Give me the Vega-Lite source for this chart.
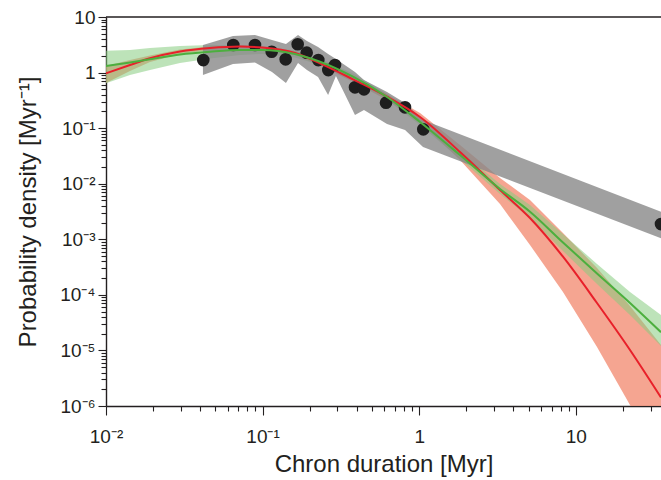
{
  "$schema": "https://vega.github.io/schema/vega-lite/v6.json",
  "autosize": {"type": "none"},
  "padding": {"left": 106, "top": 17, "right": 0, "bottom": 74},
  "width": 555,
  "height": 389,
  "config": {
    "view": {"stroke": null},
    "font": "Liberation Sans",
    "axis": {"grid": false, "domainColor": "#231f20", "domainWidth": 1.4, "tickColor": "#231f20", "tickWidth": 1.1, "labelColor": "#231f20", "titleColor": "#231f20", "labelFont": "Liberation Sans", "titleFont": "Liberation Sans", "titleFontWeight": "normal"}
  },
  "datasets": {
    "dots": [
      {"x": 0.0418, "y": 1.68}, {"x": 0.065, "y": 3.13}, {"x": 0.0894, "y": 3.13}, {"x": 0.1143, "y": 2.37},
      {"x": 0.1404, "y": 1.73}, {"x": 0.1675, "y": 3.23}, {"x": 0.1912, "y": 2.28}, {"x": 0.2268, "y": 1.68},
      {"x": 0.2628, "y": 1.11}, {"x": 0.29, "y": 1.37}, {"x": 0.389, "y": 0.543}, {"x": 0.4441, "y": 0.5},
      {"x": 0.6138, "y": 0.287}, {"x": 0.8116, "y": 0.237}, {"x": 1.062, "y": 0.0953}, {"x": 35, "y": 0.00188}
    ],
    "gray": [
      {"x": 0.0416, "y": 0.904, "y2": 3.13}, {"x": 0.0647, "y": 1.43, "y2": 4.55}, {"x": 0.0894, "y": 1.52, "y2": 4.75},
      {"x": 0.1148, "y": 1.02, "y2": 3.86}, {"x": 0.141, "y": 0.649, "y2": 3.27}, {"x": 0.1683, "y": 1.49, "y2": 4.75},
      {"x": 0.192, "y": 1.11, "y2": 3.7}, {"x": 0.226, "y": 0.832, "y2": 2.89}, {"x": 0.262, "y": 0.395, "y2": 2.16},
      {"x": 0.294, "y": 0.868, "y2": 1.76}, {"x": 0.389, "y": 0.172, "y2": 1.02}, {"x": 0.444, "y": 0.212, "y2": 0.735},
      {"x": 0.623, "y": 0.119, "y2": 0.447}, {"x": 0.812, "y": 0.0926, "y2": 0.284}, {"x": 1.058, "y": 0.0458, "y2": 0.14},
      {"x": 35, "y": 0.00104, "y2": 0.00314}
    ],
    "redband": [
      {"x": 0.01, "y": 0.649, "y2": 1.313}, {"x": 0.01423, "y": 1.067, "y2": 1.684}, {"x": 0.0191, "y": 1.55, "y2": 2.029},
      {"x": 0.02968, "y": 2.159, "y2": 2.602}, {"x": 0.04613, "y": 2.548, "y2": 2.946}, {"x": 0.07173, "y": 2.712, "y2": 3.134},
      {"x": 0.09912, "y": 2.602, "y2": 3.007}, {"x": 0.161, "y": 2.071, "y2": 2.394}, {"x": 0.2325, "y": 1.34, "y2": 1.582},
      {"x": 0.3778, "y": 0.6767, "y2": 0.8324}, {"x": 0.6228, "y": 0.3209, "y2": 0.4116}, {"x": 1.012, "y": 0.129, "y2": 0.1873},
      {"x": 1.822, "y": 0.02671, "y2": 0.04972}, {"x": 3.281, "y": 0.004313, "y2": 0.01267}, {"x": 5.099, "y": 0.000789, "y2": 0.005091},
      {"x": 8.284, "y": 0.0001126, "y2": 0.001297}, {"x": 13.66, "y": 0.00001152, "y2": 0.0003043}, {"x": 22.19, "y": 0.000001042, "y2": 0.000063},
      {"x": 35, "y": 0.0000001067, "y2": 0.00001252}
    ],
    "greenband": [
      {"x": 0.01, "y": 0.6412, "y2": 2.475}, {"x": 0.01423, "y": 0.9042, "y2": 2.548}, {"x": 0.0191, "y": 1.112, "y2": 2.768},
      {"x": 0.02968, "y": 1.487, "y2": 3.007}, {"x": 0.04613, "y": 1.791, "y2": 3.134}, {"x": 0.07173, "y": 2.071, "y2": 3.07},
      {"x": 0.09912, "y": 2.159, "y2": 3.007}, {"x": 0.161, "y": 1.867, "y2": 2.496}, {"x": 0.2325, "y": 1.368, "y2": 1.791},
      {"x": 0.3778, "y": 0.7351, "y2": 0.9623}, {"x": 0.6228, "y": 0.3209, "y2": 0.4116}, {"x": 1.012, "y": 0.1139, "y2": 0.1461},
      {"x": 1.822, "y": 0.02784, "y2": 0.0388}, {"x": 3.281, "y": 0.006531, "y2": 0.009881}, {"x": 5.099, "y": 0.002415, "y2": 0.004139},
      {"x": 8.284, "y": 0.0006154, "y2": 0.001245}, {"x": 13.66, "y": 0.0001568, "y2": 0.0003591}, {"x": 22.19, "y": 0.0000434, "y2": 0.0001126},
      {"x": 35, "y": 0.00001201, "y2": 0.0000434}
    ],
    "redline": [
      {"x": 0.01, "y": 0.9703}, {"x": 0.01423, "y": 1.368}, {"x": 0.0191, "y": 1.806}, {"x": 0.02968, "y": 2.394},
      {"x": 0.04613, "y": 2.768}, {"x": 0.07173, "y": 2.946}, {"x": 0.09912, "y": 2.826}, {"x": 0.161, "y": 2.25},
      {"x": 0.2325, "y": 1.468}, {"x": 0.3778, "y": 0.7566}, {"x": 0.6228, "y": 0.3679}, {"x": 1.012, "y": 0.1586},
      {"x": 1.822, "y": 0.03722}, {"x": 3.281, "y": 0.007706}, {"x": 5.099, "y": 0.002415}, {"x": 8.284, "y": 0.000486},
      {"x": 13.66, "y": 0.00007135}, {"x": 22.19, "y": 0.00001018}, {"x": 35, "y": 0.000001421}
    ],
    "greenline": [
      {"x": 0.01, "y": 1.313}, {"x": 0.01423, "y": 1.524}, {"x": 0.0191, "y": 1.733}, {"x": 0.02968, "y": 2.114},
      {"x": 0.04613, "y": 2.374}, {"x": 0.07173, "y": 2.548}, {"x": 0.09912, "y": 2.548}, {"x": 0.161, "y": 2.159},
      {"x": 0.2325, "y": 1.569}, {"x": 0.3778, "y": 0.8427}, {"x": 0.6228, "y": 0.3634}, {"x": 1.012, "y": 0.129},
      {"x": 1.822, "y": 0.03285}, {"x": 3.281, "y": 0.008033}, {"x": 5.099, "y": 0.003136}, {"x": 8.284, "y": 0.0008752},
      {"x": 13.66, "y": 0.0002423}, {"x": 22.19, "y": 0.00007135}, {"x": 35, "y": 0.00002128}
    ],
    "frame": [{"x": 0.01, "x2": 35, "y": 10}]
  },
  "encoding": {
    "x": {
      "field": "x", "type": "quantitative",
      "scale": {"type": "log", "domain": [0.01, 35], "nice": false},
      "axis": {
        "title": "Chron duration [Myr]",
        "titleFontSize": 24, "titleY": 65, "titleBaseline": "alphabetic",
        "labelFontSize": 19, "labelFlush": false, "labelOverlap": false, "labelPadding": 12,
        "values": [0.01,0.02,0.03,0.04,0.05,0.06,0.07,0.08,0.09,0.1,0.2,0.3,0.4,0.5,0.6,0.7,0.8,0.9,1,2,3,4,5,6,7,8,9,10,20,30],
        "labelExpr": "datum.value == 0.01 ? '10⁻²' : datum.value == 0.1 ? '10⁻¹' : datum.value == 1 ? '1' : datum.value == 10 ? '10' : ''",
        "tickSize": {"condition": {"test": "indexof([0.01,0.1,1,10], datum.value) >= 0", "value": 9}, "value": 5}
      }
    },
    "y": {
      "field": "y", "type": "quantitative",
      "scale": {"type": "log", "domain": [0.000001, 10], "nice": false},
      "axis": {
        "title": "Probability density [Myr⁻¹]",
        "titleFontSize": 24, "titleX": -71, "titleBaseline": "alphabetic",
        "labelFontSize": 19, "labelFlush": false, "labelOverlap": false, "labelPadding": 3,
        "values": [0.000001,0.000002,0.000003,0.000004,0.000005,0.000006,0.000007,0.000008,0.000009,0.00001,0.00002,0.00003,0.00004,0.00005,0.00006,0.00007,0.00008,0.00009,0.0001,0.0002,0.0003,0.0004,0.0005,0.0006,0.0007,0.0008,0.0009,0.001,0.002,0.003,0.004,0.005,0.006,0.007,0.008,0.009,0.01,0.02,0.03,0.04,0.05,0.06,0.07,0.08,0.09,0.1,0.2,0.3,0.4,0.5,0.6,0.7,0.8,0.9,1,2,3,4,5,6,7,8,9,10],
        "labelExpr": "datum.value == 10 ? '10' : datum.value == 1 ? '1' : datum.value == 0.1 ? '10⁻¹' : datum.value == 0.01 ? '10⁻²' : datum.value == 0.001 ? '10⁻³' : datum.value == 0.0001 ? '10⁻⁴' : datum.value == 0.00001 ? '10⁻⁵' : datum.value == 0.000001 ? '10⁻⁶' : ''",
        "tickSize": {"condition": {"test": "indexof([10,1,0.1,0.01,0.001,0.0001,0.00001,0.000001], datum.value) >= 0", "value": 8}, "value": 5}
      }
    }
  },
  "layer": [
    {"data": {"name": "redband"}, "mark": {"type": "area", "color": "#f2876c", "opacity": 0.75, "clip": true}, "encoding": {"y2": {"field": "y2"}}},
    {"data": {"name": "greenband"}, "mark": {"type": "area", "color": "#86cc80", "opacity": 0.55, "clip": true}, "encoding": {"y2": {"field": "y2"}}},
    {"data": {"name": "gray"}, "mark": {"type": "area", "color": "#888888", "opacity": 0.8, "clip": true}, "encoding": {"y2": {"field": "y2"}}},
    {"data": {"name": "dots"}, "mark": {"type": "point", "filled": true, "color": "#1e1e1e", "opacity": 1, "size": 160}},
    {"data": {"name": "redline"}, "mark": {"type": "line", "color": "#e8202a", "strokeWidth": 2, "interpolate": "monotone", "clip": true}},
    {"data": {"name": "greenline"}, "mark": {"type": "line", "color": "#4caf3e", "strokeWidth": 2, "interpolate": "monotone", "clip": true}},
    {"data": {"name": "frame"}, "mark": {"type": "rule", "color": "#231f20", "strokeWidth": 1.4}, "encoding": {"x2": {"field": "x2"}}}
  ]
}
